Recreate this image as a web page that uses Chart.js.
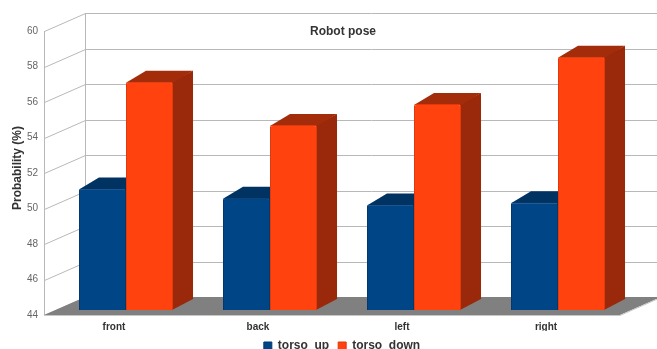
<!DOCTYPE html>
<html>
<head>
<meta charset="utf-8">
<script src="https://cdn.jsdelivr.net/npm/chart.js@4.4.1/dist/chart.umd.min.js"></script>
<style>
html, body { margin: 0; padding: 0; background: #ffffff; overflow: hidden; height: 349px; }
#wrap { width: 657px; height: 349px; overflow: hidden; position: relative; }
canvas { display: block; }
</style>
</head>
<body>
<div id="wrap"><canvas id="c" width="657" height="362"></canvas></div>
<script>
const categories = ['front', 'back', 'left', 'right'];
const seriesNames = ['torso_up', 'torso_down'];
const torsoUp = [50.85, 50.33, 49.95, 50.07];
const torsoDown = [56.86, 54.42, 55.6, 58.27];
const yMin = 44;
const yMax = 60;
const yStep = 2;
const chartTitle = 'Robot pose';
const yTitle = 'Probability (%)';

Chart.defaults.font.family = "'Liberation Sans', Arial, sans-serif";

const frontColors = ['#004586', '#ff420e'];
const borderColors = ['#003a70', '#e03a0c'];
const sideColors = ['#002c55', '#99290a'];
const topColors = ['#003262', '#a32c0b'];

const DX = 20, DY = -11;          // bar depth
const FX = -10, FY = 5;           // front plane offset from chart area
const BX = 31, BY = -13;          // back wall offset from chart area

const threeD = {
  id: 'threeD',
  beforeDatasetsDraw(chart) {
    const { ctx, chartArea: ca, scales: { y } } = chart;
    ctx.save();
    ctx.strokeStyle = '#b8b8b8';
    ctx.lineWidth = 1;
    const fl = ca.left + FX, fr = ca.right + FX;
    const bl = ca.left + BX, br = ca.right + BX;
    y.ticks.forEach(t => {
      const p = y.getPixelForValue(t.value);
      const yb = Math.round(p + BY) + 0.5;
      const yf = Math.round(p + FY) + 0.5;
      ctx.beginPath();
      ctx.moveTo(bl, yb);
      ctx.lineTo(br + 10, yb);
      ctx.stroke();
      ctx.beginPath();
      ctx.moveTo(fl + 0.5, yf);
      ctx.lineTo(bl + 0.5, yb);
      ctx.stroke();
    });
    const pTop = y.getPixelForValue(yMax), pBot = y.getPixelForValue(yMin);
    ctx.beginPath();
    ctx.moveTo(bl + 0.5, Math.round(pTop + BY));
    ctx.lineTo(bl + 0.5, Math.round(pBot + BY));
    ctx.stroke();
    ctx.beginPath();
    ctx.moveTo(fl + 0.5, Math.round(pTop + FY));
    ctx.lineTo(fl + 0.5, Math.round(pBot + FY));
    ctx.stroke();
    // floor
    ctx.fillStyle = '#808080';
    ctx.beginPath();
    ctx.moveTo(fl, pBot + FY);
    ctx.lineTo(fr, pBot + FY);
    ctx.lineTo(br, pBot + BY);
    ctx.lineTo(bl, pBot + BY);
    ctx.closePath();
    ctx.fill();
    ctx.strokeStyle = '#c8c8c8';
    ctx.beginPath();
    ctx.moveTo(fl, Math.round(pBot + FY) + 0.5);
    ctx.lineTo(fr, Math.round(pBot + FY) + 0.5);
    ctx.lineTo(br, Math.round(pBot + BY) + 0.5);
    ctx.stroke();
    // bar side and top faces
    chart.data.datasets.forEach((ds, di) => {
      const meta = chart.getDatasetMeta(di);
      meta.data.forEach(bar => {
        const x = bar.x, top = bar.y, width = bar.width;
        const base = pBot;
        const x0 = x - width / 2, x1 = x + width / 2;
        ctx.fillStyle = sideColors[di];
        ctx.beginPath();
        ctx.moveTo(x1 - 1, top);
        ctx.lineTo(x1 + DX, top + DY);
        ctx.lineTo(x1 + DX, base + DY);
        ctx.lineTo(x1 - 1, base);
        ctx.closePath();
        ctx.fill();
        ctx.fillStyle = topColors[di];
        ctx.beginPath();
        ctx.moveTo(x0, top + 1);
        ctx.lineTo(x1, top + 1);
        ctx.lineTo(x1 + DX, top + DY);
        ctx.lineTo(x0 + DX, top + DY);
        ctx.closePath();
        ctx.fill();
      });
    });
    ctx.restore();
  },
  afterDraw(chart) {
    const { ctx, chartArea: ca } = chart;
    ctx.save();
    ctx.font = "bold 12px 'Liberation Sans', Arial, sans-serif";
    ctx.fillStyle = '#333333';
    ctx.textAlign = 'center';
    ctx.textBaseline = 'middle';
    ctx.fillText(chartTitle, (ca.left + ca.right) / 2 + 1, 32);
    ctx.restore();
  }
};

new Chart(document.getElementById('c'), {
  type: 'bar',
  data: {
    labels: categories,
    datasets: [
      {
        label: seriesNames[0],
        data: torsoUp,
        backgroundColor: frontColors[0],
        borderColor: borderColors[0],
        borderWidth: 1,
        borderSkipped: false,
        borderRadius: 2,
        barPercentage: 1,
        categoryPercentage: 0.653
      },
      {
        label: seriesNames[1],
        data: torsoDown,
        backgroundColor: frontColors[1],
        borderColor: borderColors[1],
        borderWidth: 1,
        borderSkipped: false,
        borderRadius: 2,
        barPercentage: 1,
        categoryPercentage: 0.653
      }
    ]
  },
  options: {
    responsive: false,
    animation: false,
    layout: { padding: { top: 26, right: 27, left: 0, bottom: 0 } },
    plugins: {
      title: { display: false },
      tooltip: { enabled: false },
      legend: {
        position: 'bottom',
        fullSize: false,
        labels: {
          boxWidth: 8,
          boxHeight: 8,
          padding: 9,
          color: '#333333',
          font: { size: 12, weight: 'bold' }
        }
      }
    },
    scales: {
      x: {
        grid: { display: false, drawTicks: false },
        border: { display: false },
        ticks: {
          color: '#333333',
          font: { size: 10, weight: 'bold' },
          padding: 11,
          labelOffset: -12
        },
        afterFit(scale) { scale.height = 21; }
      },
      y: {
        min: yMin,
        max: yMax,
        grid: { display: false, drawTicks: false },
        border: { display: false },
        ticks: {
          stepSize: yStep,
          color: '#666666',
          font: { size: 10 },
          padding: 16,
          labelOffset: 5
        },
        title: {
          display: true,
          text: yTitle,
          color: '#333333',
          font: { size: 12, weight: 'bold' },
          padding: { top: 10, bottom: 0 }
        },
        afterFit(scale) { scale.width = 54; }
      }
    }
  },
  plugins: [threeD]
});
</script>
</body>
</html>
